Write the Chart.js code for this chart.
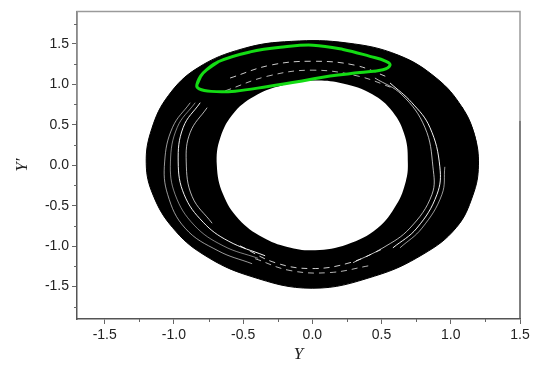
<!DOCTYPE html>
<html lang="en">
<head>
    <meta charset="UTF-8">
    <title>Phase portrait</title>
    <script src="https://cdn.jsdelivr.net/npm/chart.js@4.4.0/dist/chart.umd.min.js"></script>
    <style>
        body { margin: 0; background: #fff; }
    </style>
</head>
<body>
<canvas id="chart" width="533" height="366"></canvas>
<script>
    // ring outer edge (Y, Y')
    const outerX = [1.20, 1.17, 1.08, 0.90, 0.62, 0.25, -0.15, -0.50, -0.83, -1.04, -1.16, -1.20,
        -1.15, -1.01, -0.79, -0.45, 0.0, 0.45, 0.80, 1.04, 1.16]
    const outerY = [0.0, 0.38, 0.72, 1.07, 1.36, 1.51, 1.53, 1.44, 1.20, 0.86, 0.45, 0.02,
        -0.37, -0.77, -1.10, -1.37, -1.52, -1.37, -1.10, -0.77, -0.37]

    // ring inner edge (the hole)
    const innerX = [0.69, 0.67, 0.58, 0.43, 0.22, 0.0, -0.22, -0.40, -0.56, -0.665, -0.69,
        -0.645, -0.53, -0.36, -0.18, 0.02, 0.25, 0.47, 0.61, 0.675]
    const innerY = [0.02, 0.35, 0.66, 0.88, 1.01, 1.045, 0.985, 0.87, 0.66, 0.34, 0.0,
        -0.36, -0.67, -0.89, -1.01, -1.05, -0.98, -0.78, -0.48, -0.2]

    // green closed orbit
    const loopX = [-0.834, -0.789, -0.680, -0.449, -0.197, 0.005, 0.222, 0.416, 0.532, 0.561, 0.510, 0.344, 0.128,
        -0.074, -0.320, -0.558, -0.731, -0.818]
    const loopY = [0.995, 1.138, 1.278, 1.400, 1.463, 1.483, 1.430, 1.345, 1.284, 1.235, 1.180, 1.144, 1.102,
        1.041, 0.973, 0.915, 0.912, 0.943]

    // light gaps between trajectories
    const gapL1 = [[-0.882, 0.772], [-1.010, 0.467], [-1.067, 0.040], [-1.045, -0.363], [-0.919, -0.778], [-0.680, -1.058], [-0.435, -1.217]]
    const gapL2 = [[-0.810, 0.772], [-0.933, 0.467], [-0.969, 0.040], [-0.926, -0.363], [-0.789, -0.704], [-0.608, -0.936], [-0.341, -1.119]]
    const gapL3 = [[-0.760, 0.711], [-0.882, 0.406], [-0.911, 0.040], [-0.868, -0.388], [-0.724, -0.717]]
    const gapL4 = [[-0.846, 0.772], [-0.976, 0.467], [-1.025, 0.040], [-0.991, -0.363], [-0.854, -0.740], [-0.644, -0.996], [-0.392, -1.150]]
    const gapR1 = [[0.452, 1.077], [0.647, 0.870], [0.813, 0.467], [0.871, -0.020], [0.864, -0.362], [0.705, -0.777], [0.510, -1.021], [0.294, -1.204]]
    const gapR2 = [[0.561, 1.016], [0.719, 0.772], [0.849, 0.467], [0.921, -0.020], [0.900, -0.362], [0.755, -0.777], [0.582, -1.021]]
    const gapR3 = [[0.957, -0.020], [0.936, -0.362], [0.792, -0.777], [0.633, -1.021]]
    const gapT1 = [[-0.594, 1.077], [-0.305, 1.235], [-0.002, 1.284], [0.308, 1.235], [0.561, 1.077]]
    const gapT2 = [[-0.630, 0.918], [-0.320, 1.101], [-0.002, 1.174], [0.330, 1.101], [0.597, 0.943]]
    const gapB1 = [[-0.522, -0.996], [-0.269, -1.204], [-0.002, -1.277], [0.272, -1.204], [0.525, -1.021]]
    const gapB2 = [[-0.413, -1.155], [-0.161, -1.301], [0.128, -1.326], [0.416, -1.240]]

    const xMajor = [-1.5, -1.0, -0.5, 0.0, 0.5, 1.0, 1.5]
    const xMinor = [-1.25, -0.75, -0.25, 0.25, 0.75, 1.25]
    const yMajor = [-1.5, -1.0, -0.5, 0.0, 0.5, 1.0, 1.5]
    const yMinor = [-1.75, -1.25, -0.75, -0.25, 0.25, 0.75, 1.25, 1.75]

    // closed curve: run a few points past the start so the spline has no corner at the seam
    function loop(xs, ys) {
        const pts = xs.map((x, i) => ({x: x, y: ys[i]}))
        return pts.concat(pts.slice(0, 3))
    }

    function pairs(list) {
        return list.map(p => ({x: p[0], y: p[1]}))
    }

    function gapSet(list, alpha, dashed) {
        return {
            data: pairs(list),
            borderColor: `rgba(255,255,255,${alpha})`,
            borderWidth: 1,
            borderDash: dashed ? [6, 5] : [],
            pointRadius: 0,
            fill: false,
            tension: 0.4,
            order: 5
        }
    }

    // minor ticks + light frame on top / right
    const framePlugin = {
        id: 'frame',
        afterDraw(chart) {
            const ctx = chart.ctx
            const a = chart.chartArea
            const xs = chart.scales.x
            const ys = chart.scales.y
            const split = ys.getPixelForValue(0.55)
            ctx.save()
            ctx.lineWidth = 1.5
            ctx.strokeStyle = '#9a9a9a'
            ctx.beginPath()
            ctx.moveTo(a.left, split)
            ctx.lineTo(a.left, a.top)
            ctx.lineTo(a.right, a.top)
            ctx.lineTo(a.right, split)
            ctx.stroke()
            ctx.strokeStyle = '#555'
            ctx.beginPath()
            ctx.moveTo(a.right, split)
            ctx.lineTo(a.right, a.bottom)
            ctx.stroke()
            ctx.lineWidth = 1
            ctx.strokeStyle = '#666'
            ctx.beginPath()
            xMinor.forEach(v => {
                const px = Math.round(xs.getPixelForValue(v)) + 0.5
                ctx.moveTo(px, a.bottom)
                ctx.lineTo(px, a.bottom + 3)
            })
            yMinor.forEach(v => {
                const py = Math.round(ys.getPixelForValue(v)) + 0.5
                ctx.moveTo(a.left, py)
                ctx.lineTo(a.left - 3, py)
            })
            ctx.stroke()
            ctx.restore()
        }
    }

    const tickFont = {family: '"Liberation Sans", Arial, sans-serif', size: 14}
    const titleFont = {family: '"Liberation Serif", "DejaVu Serif", serif', size: 17, style: 'italic'}

    new Chart(document.getElementById('chart'), {
        type: 'line',
        data: {
            datasets: [
                {
                    data: loop(loopX, loopY),
                    borderColor: '#14dc14',
                    borderWidth: 3,
                    pointRadius: 0,
                    fill: false,
                    tension: 0.4,
                    order: 0
                },
                gapSet(gapL1, 0.6), gapSet(gapL2, 0.95), gapSet(gapL3, 0.7), gapSet(gapL4, 0.5),
                gapSet(gapR1, 0.7), gapSet(gapR2, 0.95), gapSet(gapR3, 0.6),
                gapSet(gapT1, 0.8, true), gapSet(gapT2, 0.7, true),
                gapSet(gapB1, 0.8, true), gapSet(gapB2, 0.7, true),
                {
                    data: loop(innerX, innerY),
                    borderColor: 'rgba(0,0,0,0)',
                    backgroundColor: '#fff',
                    borderWidth: 1,
                    pointRadius: 0,
                    fill: 'shape',
                    tension: 0.4,
                    order: 9
                },
                {
                    data: loop(outerX, outerY),
                    borderColor: '#000',
                    backgroundColor: '#000',
                    borderWidth: 1,
                    pointRadius: 0,
                    fill: 'shape',
                    tension: 0.4,
                    order: 10
                }
            ]
        },
        options: {
            responsive: false,
            animation: false,
            layout: {padding: {left: 0, top: 7, right: 13, bottom: 0}},
            plugins: {legend: {display: false}, tooltip: {enabled: false}},
            scales: {
                x: {
                    type: 'linear',
                    min: -1.7,
                    max: 1.5,
                    afterFit(scale) { scale.height = 47 },
                    afterBuildTicks(scale) { scale.ticks = xMajor.map(v => ({value: v})) },
                    grid: {drawOnChartArea: false, drawTicks: true, tickLength: 5, tickColor: '#666'},
                    border: {color: '#555', width: 1.5},
                    ticks: {
                        autoSkip: false,
                        maxRotation: 0,
                        padding: 3,
                        color: '#222',
                        font: tickFont,
                        callback: v => v.toFixed(1)
                    },
                    title: {display: true, text: 'Y', color: '#222', font: titleFont, padding: {top: 0, bottom: 1}}
                },
                y: {
                    type: 'linear',
                    min: -1.9,
                    max: 1.9,
                    afterFit(scale) { scale.width = 77 },
                    afterBuildTicks(scale) { scale.ticks = yMajor.map(v => ({value: v})) },
                    grid: {drawOnChartArea: false, drawTicks: true, tickLength: 5, tickColor: '#666'},
                    border: {color: '#555', width: 1.5},
                    ticks: {
                        autoSkip: false,
                        padding: 3,
                        color: '#222',
                        font: tickFont,
                        callback: v => v.toFixed(1)
                    },
                    title: {display: true, text: 'Y\u2032', color: '#222', font: titleFont, padding: {top: 12, bottom: 0}}
                }
            }
        },
        plugins: [framePlugin]
    })
</script>
</body>
</html>
